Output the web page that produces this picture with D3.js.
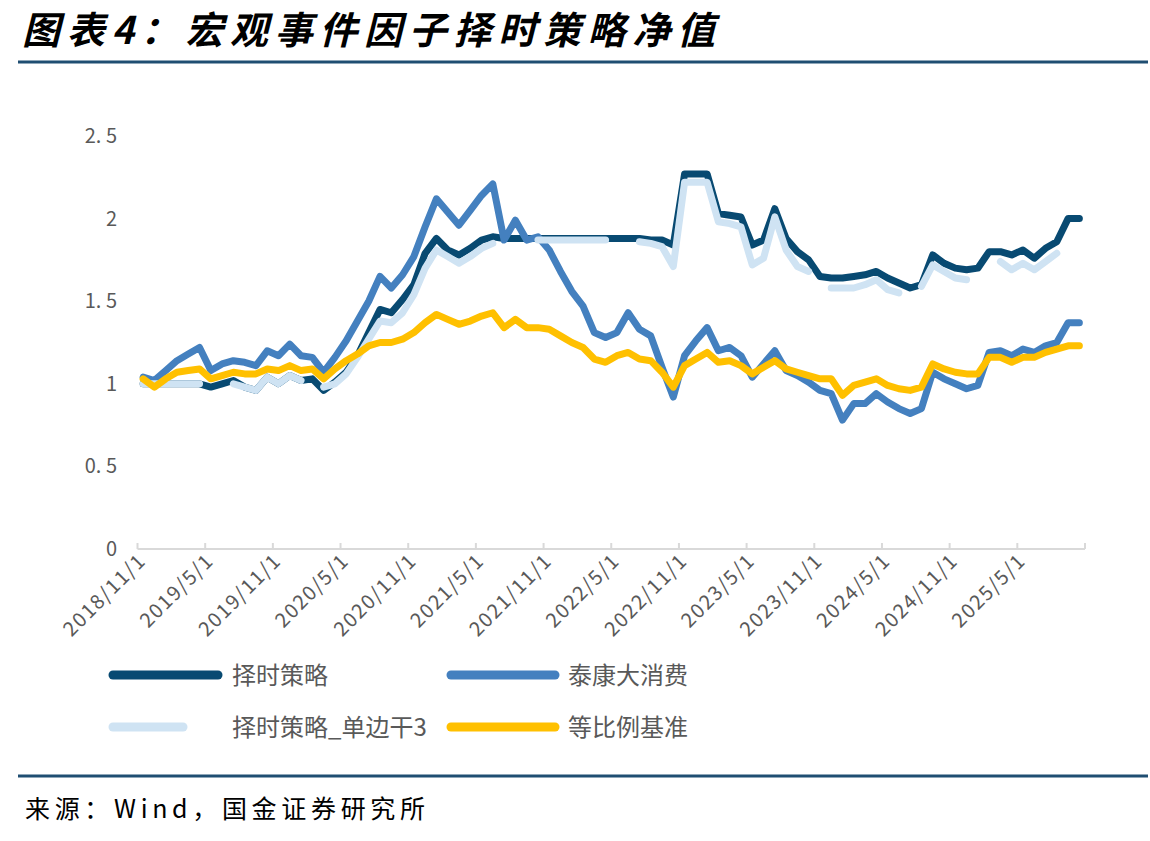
<!DOCTYPE html>
<html>
<head>
<meta charset="utf-8">
<script src="https://cdn.jsdelivr.net/npm/d3@7"></script>
<style>
  body { margin: 0; background: #fff; }
  text { font-family: "Noto Sans CJK SC", "Liberation Sans", sans-serif; }
</style>
</head>
<body>
<script>
// monthly categories, 2018/11 .. 2025/10
const categories = [
  "2018/11/1", "2018/12/1",
  "2019/1/1", "2019/2/1", "2019/3/1", "2019/4/1", "2019/5/1", "2019/6/1", "2019/7/1", "2019/8/1", "2019/9/1", "2019/10/1", "2019/11/1", "2019/12/1",
  "2020/1/1", "2020/2/1", "2020/3/1", "2020/4/1", "2020/5/1", "2020/6/1", "2020/7/1", "2020/8/1", "2020/9/1", "2020/10/1", "2020/11/1", "2020/12/1",
  "2021/1/1", "2021/2/1", "2021/3/1", "2021/4/1", "2021/5/1", "2021/6/1", "2021/7/1", "2021/8/1", "2021/9/1", "2021/10/1", "2021/11/1", "2021/12/1",
  "2022/1/1", "2022/2/1", "2022/3/1", "2022/4/1", "2022/5/1", "2022/6/1", "2022/7/1", "2022/8/1", "2022/9/1", "2022/10/1", "2022/11/1", "2022/12/1",
  "2023/1/1", "2023/2/1", "2023/3/1", "2023/4/1", "2023/5/1", "2023/6/1", "2023/7/1", "2023/8/1", "2023/9/1", "2023/10/1", "2023/11/1", "2023/12/1",
  "2024/1/1", "2024/2/1", "2024/3/1", "2024/4/1", "2024/5/1", "2024/6/1", "2024/7/1", "2024/8/1", "2024/9/1", "2024/10/1", "2024/11/1", "2024/12/1",
  "2025/1/1", "2025/2/1", "2025/3/1", "2025/4/1", "2025/5/1", "2025/6/1", "2025/7/1", "2025/8/1", "2025/9/1", "2025/10/1"
];

const tickLabels = ["2018/11/1", "2019/5/1", "2019/11/1", "2020/5/1", "2020/11/1", "2021/5/1", "2021/11/1",
  "2022/5/1", "2022/11/1", "2023/5/1", "2023/11/1", "2024/5/1", "2024/11/1", "2025/5/1"];

const yTicks = [0, 0.5, 1, 1.5, 2, 2.5];

// 择时策略
const timing = [
  1.00, 1.00,
  1.00, 1.00, 1.00, 1.00, 0.98, 1.00, 1.02, 0.98, 0.96, 1.04, 1.00, 1.05,
  1.02, 1.03, 0.96, 1.01, 1.07, 1.17, 1.31, 1.45, 1.43, 1.51, 1.60, 1.79,
  1.88, 1.81, 1.78, 1.82, 1.87, 1.89, 1.88, 1.88, 1.88, 1.88, 1.88, 1.88,
  1.88, 1.88, 1.88, 1.88, 1.88, 1.88, 1.88, 1.87, 1.87, 1.84, 2.27, 2.27,
  2.27, 2.03, 2.02, 2.01, 1.84, 1.87, 2.06, 1.88, 1.80, 1.75, 1.65, 1.64,
  1.64, 1.65, 1.66, 1.68, 1.64, 1.61, 1.58, 1.60, 1.78, 1.73, 1.70, 1.69,
  1.70, 1.80, 1.80, 1.78, 1.81, 1.76, 1.82, 1.86, 2.00, 2.00
];

// 泰康大消费
const consumer = [
  1.04, 1.02,
  1.08, 1.14, 1.18, 1.22, 1.08, 1.12, 1.14, 1.13, 1.11, 1.20, 1.17, 1.24,
  1.17, 1.16, 1.07, 1.16, 1.26, 1.38, 1.50, 1.65, 1.58, 1.66, 1.77, 1.95,
  2.12, 2.04, 1.96, 2.05, 2.14, 2.21, 1.87, 1.99, 1.87, 1.89, 1.81, 1.68,
  1.56, 1.47, 1.31, 1.28, 1.31, 1.43, 1.33, 1.29, 1.10, 0.92, 1.17, 1.26,
  1.34, 1.20, 1.22, 1.17, 1.04, 1.12, 1.20, 1.08, 1.05, 1.01, 0.96, 0.94,
  0.78, 0.88, 0.88, 0.94, 0.89, 0.85, 0.82, 0.85, 1.07, 1.03, 1.00, 0.97,
  0.99, 1.19, 1.20, 1.17, 1.21, 1.19, 1.23, 1.25, 1.37, 1.37
];

// 择时策略_单边干3 (gaps where no value)
const timingOneSide = [
  1.00, 1.00,
  1.00, 1.00, 1.00, 1.00, null, null, 1.00, 0.98, 0.96, 1.04, 1.00, 1.05,
  1.02, null, 0.98, 1.00, 1.06, 1.16, 1.27, 1.38, 1.37, 1.43, 1.54, 1.70,
  1.81, 1.77, 1.73, 1.77, 1.82, 1.85, null, null, null, 1.87, 1.87, 1.87,
  1.87, 1.87, 1.87, 1.87, null, null, 1.86, 1.85, 1.83, 1.71, 2.22, 2.22,
  2.22, 1.98, 1.97, 1.95, 1.72, 1.76, 2.01, 1.81, 1.71, 1.68, null, 1.58,
  1.58, 1.58, 1.60, 1.63, 1.57, 1.55, null, 1.59, 1.72, 1.68, 1.64, 1.63,
  null, null, 1.74, 1.69, 1.73, 1.69, 1.74, 1.79, null, null
];

// 等比例基准
const benchmark = [
  1.03, 0.98,
  1.03, 1.07, 1.08, 1.09, 1.03, 1.05, 1.07, 1.06, 1.06, 1.09, 1.08, 1.11,
  1.08, 1.09, 1.03, 1.09, 1.14, 1.18, 1.23, 1.25, 1.25, 1.27, 1.31, 1.37,
  1.42, 1.39, 1.36, 1.38, 1.41, 1.43, 1.34, 1.39, 1.34, 1.34, 1.33, 1.29,
  1.25, 1.22, 1.15, 1.13, 1.17, 1.19, 1.15, 1.14, 1.07, 0.98, 1.11, 1.15,
  1.19, 1.13, 1.14, 1.11, 1.06, 1.10, 1.14, 1.09, 1.07, 1.05, 1.03, 1.03,
  0.93, 0.99, 1.01, 1.03, 0.99, 0.97, 0.96, 0.98, 1.12, 1.09, 1.07, 1.06,
  1.06, 1.16, 1.16, 1.13, 1.16, 1.16, 1.19, 1.21, 1.23, 1.23
];

const series = [
  { name: "择时策略", values: timing, color: "#084a72" },
  { name: "泰康大消费", values: consumer, color: "#4480bf" },
  { name: "择时策略_单边干3", values: timingOneSide, color: "#cfe3f3" },
  { name: "等比例基准", values: benchmark, color: "#ffc000" }
];

const width = 1150;
const height = 841;
const textGray = "#595959";
const ruleColor = "#1f4e72";

const svg = d3.select("body").append("svg")
  .attr("width", width)
  .attr("height", height);

svg.append("rect").attr("width", width).attr("height", height).attr("fill", "#fff");

// title + rules
svg.append("text")
  .attr("x", 22).attr("y", 44)
  .attr("font-size", 38)
  .attr("font-weight", 700)
  .attr("font-style", "italic")
  .attr("fill", "#000")
  .attr("textLength", 693)
  .attr("lengthAdjust", "spacing")
  .text("图表4：宏观事件因子择时策略净值");

svg.append("line").attr("x1", 18).attr("x2", 1148).attr("y1", 62).attr("y2", 62)
  .attr("stroke", ruleColor).attr("stroke-width", 3);
svg.append("line").attr("x1", 18).attr("x2", 1148).attr("y1", 776).attr("y2", 776)
  .attr("stroke", ruleColor).attr("stroke-width", 3);

svg.append("text")
  .attr("x", 25).attr("y", 818)
  .attr("font-size", 25)
  .attr("fill", "#000")
  .attr("textLength", 400)
  .attr("lengthAdjust", "spacing")
  .text("来源：Wind，国金证券研究所");

// scales
const x = d3.scaleBand().domain(categories).range([137.5, 1085]).padding(0);
const xc = (c) => x(c) + x.bandwidth() / 2;
const y = d3.scaleLinear().domain([0, 2.5]).range([549, 136]);

// y labels
svg.append("g").selectAll("text")
  .data(yTicks)
  .join("text")
  .attr("x", 117)
  .attr("y", (d) => y(d) + 7)
  .attr("text-anchor", "end")
  .attr("font-size", 20)
  .attr("font-family", "Liberation Sans, sans-serif")
  .attr("fill", textGray)
  .text((d) => d % 1 === 0 ? d : String(d).replace(".", ". "));

// x axis line + ticks
const axisG = svg.append("g");
axisG.append("line")
  .attr("x1", 137.5).attr("x2", 1085).attr("y1", 549).attr("y2", 549)
  .attr("stroke", "#d9d9d9").attr("stroke-width", 2);

const tickPos = tickLabels.map((t) => x(t)).concat([x(categories[categories.length - 1]) + x.bandwidth()]);
axisG.selectAll(".tick")
  .data(tickPos)
  .join("line")
  .attr("class", "tick")
  .attr("x1", (d) => d).attr("x2", (d) => d)
  .attr("y1", 549).attr("y2", 543)
  .attr("stroke", "#d9d9d9").attr("stroke-width", 2);

axisG.selectAll(".xlab")
  .data(tickLabels)
  .join("text")
  .attr("class", "xlab")
  .attr("text-anchor", "end")
  .attr("font-size", 20)
  .attr("letter-spacing", 1.5)
  .attr("font-family", "Liberation Sans, sans-serif")
  .attr("fill", textGray)
  .attr("transform", (d) => `translate(${xc(d) + 4},${562}) rotate(-45)`)
  .text((d) => d);

// lines
const line = d3.line()
  .defined((d) => d != null)
  .x((d, i) => xc(categories[i]))
  .y((d) => y(d));

svg.append("g").selectAll("path")
  .data(series)
  .join("path")
  .attr("d", (s) => line(s.values))
  .attr("fill", "none")
  .attr("stroke", (s) => s.color)
  .attr("stroke-width", 7)
  .attr("stroke-linejoin", "round")
  .attr("stroke-linecap", "round");

// legend
const legendItems = [
  { s: series[0], x1: 113, x2: 218, tx: 232, y: 675 },
  { s: series[1], x1: 451, x2: 555, tx: 568, y: 675 },
  { s: series[2], x1: 113, x2: 183, tx: 232, y: 727 },
  { s: series[3], x1: 451, x2: 555, tx: 568, y: 727 }
];

const lg = svg.append("g").selectAll("g")
  .data(legendItems)
  .join("g");

lg.append("line")
  .attr("x1", (d) => d.x1).attr("x2", (d) => d.x2)
  .attr("y1", (d) => d.y).attr("y2", (d) => d.y)
  .attr("stroke", (d) => d.s.color)
  .attr("stroke-width", 9)
  .attr("stroke-linecap", "round");

lg.append("text")
  .attr("x", (d) => d.tx)
  .attr("y", (d) => d.y + 9)
  .attr("font-size", 24)
  .attr("fill", textGray)
  .text((d) => d.s.name);
</script>
</body>
</html>
